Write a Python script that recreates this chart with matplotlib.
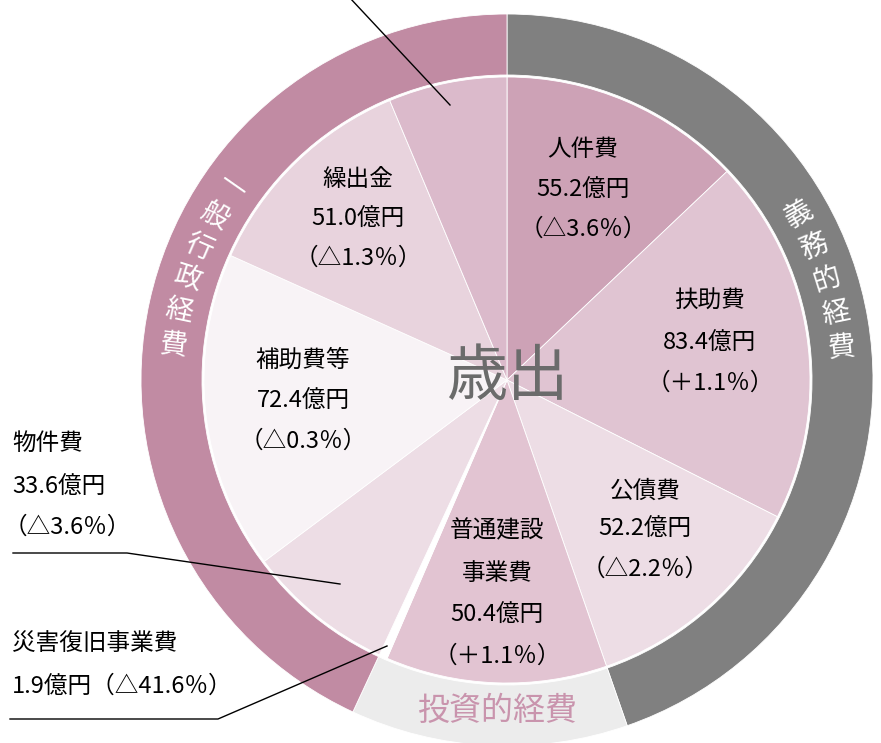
import numpy as np
import matplotlib.pyplot as plt

plt.rcParams['font.family'] = ['Noto Sans CJK JP', 'DejaVu Sans']

# inner pie, clockwise from the top
items = ['人件費', '扶助費', '公債費', '普通建設事業費', '災害復旧事業費',
         '物件費', '補助費等', '繰出金', 'その他']
amounts = [55.2, 83.4, 52.2, 50.4, 1.9, 33.6, 72.4, 51.0, 27.0]
changes = ['△3.6％', '＋1.1％', '△2.2％', '＋1.1％', '△41.6％',
           '△3.6％', '△0.3％', '△1.3％', '']
item_colors = ['#cda2b6', '#e0c4d2', '#eddde5', '#e2c4d2', '#ffffff',
               '#eddde5', '#f8f3f6', '#e8d3dd', '#dbbacb']

# outer ring groups
groups = ['義務的経費', '投資的経費', '一般行政経費']
group_members = [[0, 1, 2], [3, 4], [5, 6, 7, 8]]
group_colors = ['#808080', '#ececec', '#c18ba3']

W, H = 881, 743
cx, cy = 507, H - 380
R_in, R_out = 305, 366

fig = plt.figure(figsize=(W / 100, H / 100), dpi=100)
ax = fig.add_axes([0, 0, 1, 1])

group_vals = [sum(amounts[i] for i in m) for m in group_members]
ax.pie(group_vals, colors=group_colors, startangle=90, counterclock=False,
       center=(cx, cy), radius=R_out,
       wedgeprops=dict(width=R_out - R_in, edgecolor='white', linewidth=0.6))
ax.pie(amounts, colors=item_colors, startangle=90, counterclock=False,
       center=(cx, cy), radius=R_in - 2,
       wedgeprops=dict(edgecolor='white', linewidth=0.6))

ax.set_xlim(0, W)
ax.set_ylim(0, H)
ax.set_aspect('equal')
ax.axis('off')


def px(x, y):
    return x, H - y


fs = 17
label_pos = {
    0: (583, [150, 190, 229]),
    1: (710, [301, 343, 383]),
    2: (645, [491, 529, 569]),
    6: (303, [360, 401, 441]),
    7: (358, [180, 219, 258]),
}
for i, (x, ys) in label_pos.items():
    lines = [items[i], f'{amounts[i]}億円', f'（{changes[i]}）']
    for t, y in zip(lines, ys):
        ax.text(*px(x, y), t, ha='center', va='center', fontsize=fs)

# 普通建設事業費
for t, y in zip(['普通建設', '事業費', f'{amounts[3]}億円', f'（{changes[3]}）'],
                [531, 574, 615, 656]):
    ax.text(*px(497, y), t, ha='center', va='center', fontsize=fs)

# outside labels
for t, y in zip([items[5], f'{amounts[5]}億円', f'（{changes[5]}）'], [443, 487, 527]):
    ax.text(*px(12 if y < 520 else 4, y), t, ha='left', va='center', fontsize=fs)
for t, y in zip([items[4], f'{amounts[4]}億円（{changes[4]}）'], [643, 686]):
    ax.text(*px(12, y), t, ha='left', va='center', fontsize=fs)

lk = dict(color='black', lw=1.0)
ax.plot(*zip(px(13, 553), px(127, 553), px(340, 584)), **lk)
ax.plot(*zip(px(10, 719), px(218, 719), px(387, 646)), **lk)
ax.plot(*zip(px(350, -2), px(450, 105)), **lk)

# centre title
ax.text(*px(507, 378), '歳出', ha='center', va='center', fontsize=44, color='#6b6b6b')

# ring texts
r_mid = (R_in + R_out) / 2


def ring_text(text, angles, rot_fn, color):
    for ch, a in zip(text, angles):
        th = np.radians(a)
        x = cx + r_mid * np.sin(th)
        y = cy + r_mid * np.cos(th)
        ax.text(x, y, ch, ha='center', va='center', fontsize=20, color=color,
                rotation=rot_fn(a), rotation_mode='anchor')


ring_text(groups[0], np.linspace(60.5, 84.5, 5), lambda a: 90 - a, 'white')
ring_text(groups[2], np.linspace(305, 276, 6), lambda a: 270 - a, 'white')
ax.text(*px(497, 711), groups[1], ha='center', va='center', fontsize=23,
        color='#c994ad')

fig.savefig('out.png', dpi=100)
